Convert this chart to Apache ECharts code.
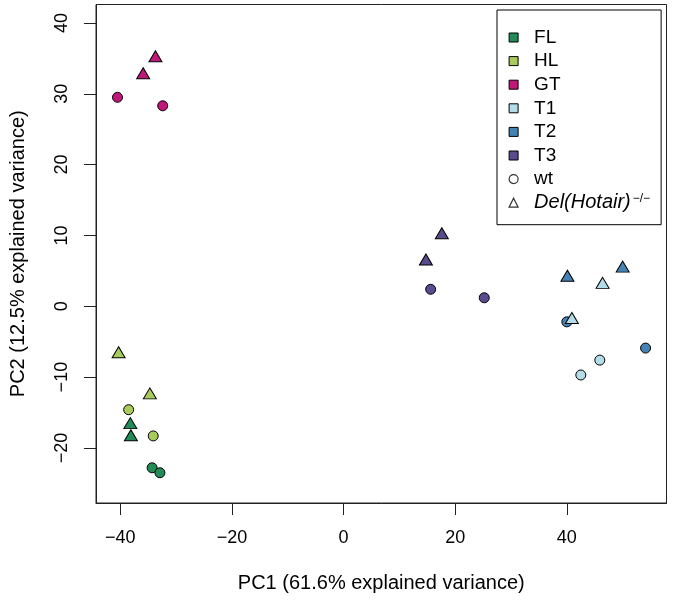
<!DOCTYPE html>
<html>
<head>
<meta charset="utf-8">
<script src="https://cdn.jsdelivr.net/npm/echarts@6/dist/echarts.min.js"></script>
<style>html,body{margin:0;padding:0;background:#fff}#c{width:673px;height:601px}</style>
</head>
<body>
<div id="c"></div>
<script>
// ---- data ----
const groups = ['FL', 'HL', 'GT', 'T1', 'T2', 'T3'];
const groupColors = ['#238b57', '#a8cc5c', '#c2177a', '#b3dbe8', '#4682b4', '#5a4a8e'];
// wt samples (circles): [PC1, PC2]
const wtFL = [[-34.3, -22.8], [-32.9, -23.5]];
const wtHL = [[-38.5, -14.6], [-34.1, -18.3]];
const wtGT = [[-40.5, 29.5], [-32.4, 28.3]];
const wtT1 = [[45.9, -7.6], [42.5, -9.7]];
const wtT2 = [[40.0, -2.2], [54.1, -5.9]];
const wtT3 = [[15.6, 2.4], [25.2, 1.2]];
// Del(Hotair)-/- samples (triangles)
const delFL = [[-38.2, -16.5], [-38.1, -18.2]];
const delHL = [[-40.3, -6.5], [-34.7, -12.3]];
const delGT = [[-33.7, 35.3], [-35.9, 32.9]];
const delT1 = [[46.4, 3.3], [40.9, -1.65]];
const delT2 = [[40.1, 4.3], [50.0, 5.6]];
const delT3 = [[17.6, 10.3], [14.75, 6.6]];
const xTicks = [-40, -20, 0, 20, 40];
const yTicks = [-20, -10, 0, 10, 20, 30, 40];
const xTitle = 'PC1 (61.6% explained variance)';
const yTitle = 'PC2 (12.5% explained variance)';
const shapeNames = ['wt', 'Del(Hotair)−/−'];

const wtData = [wtFL, wtHL, wtGT, wtT1, wtT2, wtT3];
const delData = [delFL, delHL, delGT, delT1, delT2, delT3];

const FONT = 'Liberation Sans, Arial, Helvetica, sans-serif';
const FS = 18;
const FT = 20;
const FL_ = 19;
const minus = v => String(v).replace('-', '\u2212');

const series = [];
groups.forEach((g, i) => {
  series.push({
    name: g, type: 'scatter', symbol: 'circle', symbolSize: 10, z: 2,
    itemStyle: {color: groupColors[i], borderColor: '#000', borderWidth: 1, opacity: 1},
    data: wtData[i]
  });
});
groups.forEach((g, i) => {
  series.push({
    name: g, type: 'scatter', symbol: 'triangle', symbolSize: [13, 11], z: 3,
    itemStyle: {color: groupColors[i], borderColor: '#000', borderWidth: 1, opacity: 1},
    data: delData[i]
  });
});
shapeNames.forEach(n => series.push({name: n, type: 'scatter', data: []}));

const legendData = groups.map((g, i) => ({
  name: g, icon: 'rect',
  itemStyle: {color: groupColors[i], borderColor: '#000', borderWidth: 1}
}));
legendData.push({name: shapeNames[0], icon: 'circle', itemStyle: {color: '#fff', borderColor: '#000', borderWidth: 1.2}});
legendData.push({name: shapeNames[1], icon: 'triangle', itemStyle: {color: '#fff', borderColor: '#000', borderWidth: 1.2}});

const chart = echarts.init(document.getElementById('c'), null, {renderer: 'canvas'});
chart.setOption({
  animation: false,
  backgroundColor: '#fff',
  textStyle: {fontFamily: FONT},
  grid: {left: 96, right: 6.5, top: 4.5, bottom: 98, show: true, borderColor: '#222', borderWidth: 1,
         containLabel: false, outerBoundsMode: 'none'},
  xAxis: {
    type: 'value', min: -44.35, max: 57.85,
    name: xTitle, nameLocation: 'middle', nameGap: 70,
    nameTextStyle: {color: '#000', fontSize: FT, fontFamily: FONT},
    axisLine: {show: true, onZero: false, lineStyle: {color: '#222', width: 1}},
    axisTick: {show: true, length: 12, lineStyle: {color: '#222', width: 1}, customValues: xTicks},
    axisLabel: {show: true, margin: 26, color: '#000', fontSize: FS, fontFamily: FONT,
                customValues: xTicks, formatter: minus},
    splitLine: {show: false}
  },
  yAxis: {
    type: 'value', min: -27.77, max: 42.6,
    name: yTitle, nameLocation: 'middle', nameGap: 68, nameRotate: 90,
    nameTextStyle: {color: '#000', fontSize: FT, fontFamily: FONT},
    axisLine: {show: true, onZero: false, lineStyle: {color: '#222', width: 1}},
    axisTick: {show: true, length: 12, lineStyle: {color: '#222', width: 1}, customValues: yTicks},
    axisLabel: {show: true, margin: 25, rotate: 90, color: '#000', fontSize: FS, fontFamily: FONT,
                customValues: yTicks, formatter: minus},
    splitLine: {show: false}
  },
  legend: {
    orient: 'vertical', left: 497, top: 10,
    padding: [17.5, 11, 12, 11.5],
    itemWidth: 9, itemHeight: 9, itemGap: 3.6,
    borderColor: '#000', borderWidth: 1, borderRadius: 0,
    selectedMode: false,
    textStyle: {color: '#000', fontSize: FL_, fontFamily: FONT, lineHeight: 20, padding: [0, 0, 0, 11],
      rich: {
        i: {fontStyle: 'italic', fontSize: 20, fontFamily: FONT, color: '#000', lineHeight: 20},
        s: {fontSize: 12, fontFamily: FONT, color: '#000', verticalAlign: 'top', lineHeight: 20, padding: [0, 0, 8, 2]}
      }
    },
    formatter: function (name) {
      if (name === shapeNames[1]) return '{i|Del(Hotair)}{s|−/−}';
      return name;
    },
    data: legendData
  },
  series: series
});
</script>
</body>
</html>
